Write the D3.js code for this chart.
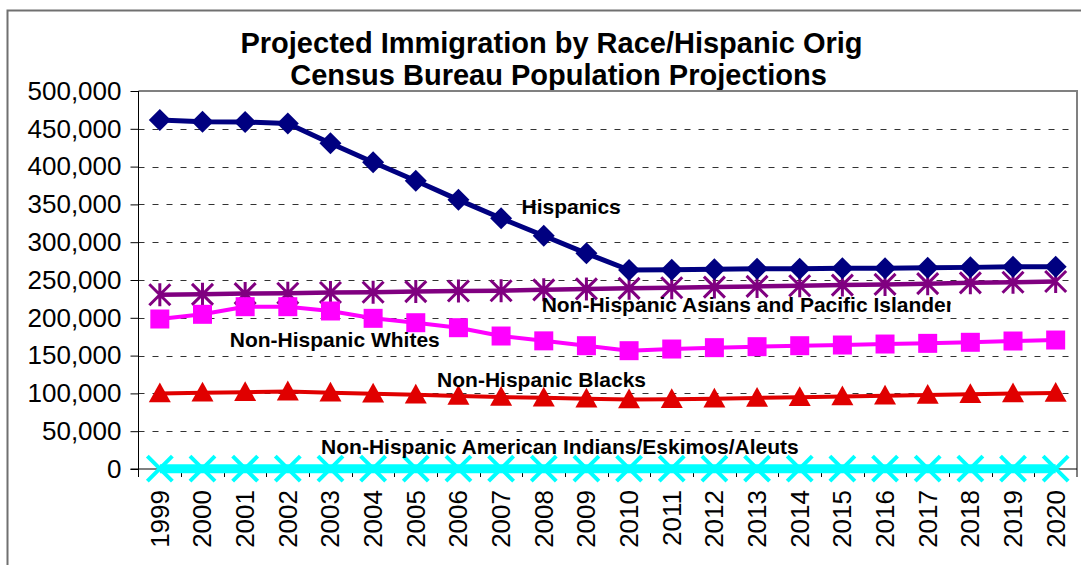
<!DOCTYPE html>
<head>
  <meta charset="utf-8">
  <script src="https://d3js.org/d3.v7.min.js"></script>
  <style>
    body { margin: 0; background: #fff; }
    text { font-family: Arial, "Liberation Sans", sans-serif; fill: #000; }
  </style>
</head>
<body>
<div id="chart"></div>
<script>
// years on the category axis
var years = ["1999","2000","2001","2002","2003","2004","2005","2006","2007","2008","2009",
             "2010","2011","2012","2013","2014","2015","2016","2017","2018","2019","2020"];

// projected immigration, persons per year
var hispanics = [461600,459400,459000,457000,430800,405700,381300,356000,331600,308500,285300,
                 263200,263500,264300,264800,264800,265400,265600,266300,266700,267400,267600];
var asians    = [230500,231000,232000,232500,233400,233800,234700,235500,235800,237000,238200,
                 239000,239800,240600,241500,242400,243300,244200,245200,246200,247000,248000];
var whites    = [198400,204600,214700,214700,209000,199300,193500,186900,175900,169500,163100,
                 156500,158700,160500,161800,163100,164000,165300,166200,167600,169300,170600];
var blacks    = [100000,100800,101600,102400,101000,99600,98200,96600,95200,94200,93000,
                 92000,92400,93000,94000,95000,96000,97000,98000,99000,99800,100500];
var indians   = [400,400,400,400,400,400,400,400,400,400,400,
                 400,400,400,400,400,400,400,400,400,400,400];

var yTicks = [0,50000,100000,150000,200000,250000,300000,350000,400000,450000,500000];

var titleLines = ["Projected Immigration by Race/Hispanic Orig", "Census Bureau Population Projections"];

// series labels placed in data units: [year position, value at baseline]
var seriesLabels = [
  { text: "Hispanics", at: [2007.48, 337300] },
  { text: "Non-Hispanic Asians and Pacific Islanders", at: [2007.95, 208100], clipTo: 2017.54 },
  { text: "Non-Hispanic Whites", at: [2000.64, 161800] },
  { text: "Non-Hispanic Blacks", at: [2005.5, 108900] },
  { text: "Non-Hispanic American Indians/Eskimos/Aleuts", at: [2002.78, 19840] }
];

var W = 1081, H = 565;
var plot = { left: 138.5, right: 1077, top: 91, bottom: 469 };

var svg = d3.select("#chart").append("svg")
    .attr("width", W)
    .attr("height", H);

// outer chart frame (runs off the right and bottom edge)
svg.append("rect")
    .attr("x", 7.5).attr("y", 10.5)
    .attr("width", 1110).attr("height", 620)
    .attr("fill", "none")
    .attr("stroke", "#707070")
    .attr("stroke-width", 2);

var x = d3.scaleBand()
    .domain(years)
    .range([plot.left, plot.right])
    .paddingInner(0).paddingOuter(0);
var bw = x.bandwidth();

var y = d3.scaleLinear()
    .domain([0, 500000])
    .range([plot.bottom, plot.top]);

// continuous year scale for placing the text labels
var xc = d3.scaleLinear()
    .domain([1999, 2020])
    .range([x("1999") + bw / 2, x("2020") + bw / 2]);

// title
svg.selectAll(".title")
  .data(titleLines)
  .enter()
  .append("text")
  .attr("class", "title")
  .attr("x", function(d, i) { return i == 0 ? 551.5 : 558.5; })
  .attr("y", function(d, i) { return 53 + i * 32; })
  .attr("text-anchor", "middle")
  .style("font-size", "29px")
  .style("font-weight", "bold")
  .text(function(d) { return d; });

// gridlines
svg.append("g")
  .selectAll("line")
  .data(yTicks.filter(function(d) { return d > 0 && d < 500000; }))
  .enter()
  .append("line")
  .attr("x1", plot.left).attr("x2", plot.right)
  .attr("y1", function(d) { return Math.round(y(d)) + 0.5; })
  .attr("y2", function(d) { return Math.round(y(d)) + 0.5; })
  .attr("stroke", "#333")
  .attr("stroke-width", 1)
  .attr("stroke-dasharray", "6,8");

// plot frame top and right
svg.append("path")
    .attr("d", "M" + plot.left + "," + plot.top + "H" + plot.right + "V" + plot.bottom)
    .attr("fill", "none")
    .attr("stroke", "#808080")
    .attr("stroke-width", 2);

// y axis
var yAxis = svg.append("g")
    .attr("transform", "translate(" + plot.left + ",0)")
    .call(d3.axisLeft(y).tickValues(yTicks).tickSize(8).tickPadding(9).tickFormat(d3.format(",")));
yAxis.select(".domain").remove();
yAxis.selectAll(".tick line").attr("stroke", "#000");
yAxis.selectAll(".tick text")
    .style("font-size", "26px")
    .style("font-family", "Arial, 'Liberation Sans', sans-serif")
    .attr("fill", "#000");
svg.append("line")
    .attr("x1", plot.left).attr("x2", plot.left)
    .attr("y1", plot.top).attr("y2", plot.bottom + 8)
    .attr("stroke", "#000");

// x axis: ticks on band edges, labels turned up
svg.append("line")
    .attr("x1", plot.left - 8).attr("x2", plot.right)
    .attr("y1", y(0)).attr("y2", y(0))
    .attr("stroke", "#000");
svg.append("g")
  .selectAll("line")
  .data(years.slice(1))
  .enter()
  .append("line")
  .attr("x1", function(d) { return Math.round(x(d)) + 0.5; })
  .attr("x2", function(d) { return Math.round(x(d)) + 0.5; })
  .attr("y1", y(0)).attr("y2", y(0) + 8)
  .attr("stroke", "#000");
svg.append("line")
    .attr("x1", plot.right).attr("x2", plot.right)
    .attr("y1", y(0)).attr("y2", y(0) + 8)
    .attr("stroke", "#000");

svg.append("g")
  .selectAll("text")
  .data(years)
  .enter()
  .append("text")
  .attr("transform", function(d) {
      return "translate(" + (x(d) + bw / 2 + 9) + "," + 490 + ") rotate(-90)";
  })
  .attr("text-anchor", "end")
  .style("font-size", "26px")
  .text(function(d) { return d; });

// marker shapes
function diamond(s) { return "M0," + (-s) + "L" + s + ",0L0," + s + "L" + (-s) + ",0Z"; }
function square(s) { return "M" + (-s) + "," + (-s) + "H" + s + "V" + s + "H" + (-s) + "Z"; }
function triangle(s) { return "M0," + (-s) + "L" + s + "," + (s * 0.8) + "L" + (-s) + "," + (s * 0.8) + "Z"; }
function asterisk(s) {
  return "M" + (-s) + "," + (-s) + "L" + s + "," + s +
         "M" + s + "," + (-s) + "L" + (-s) + "," + s +
         "M0," + (-s - 1) + "V" + (s + 1);
}
function cross(s) {
  return "M" + (-s) + "," + (-s) + "L" + s + "," + s +
         "M" + s + "," + (-s) + "L" + (-s) + "," + s;
}

var series = [
  { values: indians,   color: "#00ffff", lw: 9, shape: cross(12.5),   filled: false, mw: 4 },
  { values: blacks,    color: "#e00000", lw: 4, shape: triangle(11),  filled: true },
  { values: asians,    color: "#800080", lw: 4.5, shape: asterisk(10.5), filled: false, mw: 3 },
  { values: whites,    color: "#ff00ff", lw: 4, shape: square(9.5),   filled: true },
  { values: hispanics, color: "#000080", lw: 5, shape: diamond(11),   filled: true }
];

var line = d3.line()
    .x(function(d, i) { return x(years[i]) + bw / 2; })
    .y(function(d) { return y(d); });

series.forEach(function(s) {
  var g = svg.append("g");
  g.append("path")
      .datum(s.values)
      .attr("d", line)
      .attr("fill", "none")
      .attr("stroke", s.color)
      .attr("stroke-width", s.lw)
      .attr("stroke-linejoin", "round");
  g.selectAll(".marker")
    .data(s.values)
    .enter()
    .append("path")
    .attr("class", "marker")
    .attr("transform", function(d, i) {
        return "translate(" + (x(years[i]) + bw / 2) + "," + y(d) + ")";
    })
    .attr("d", s.shape)
    .attr("fill", s.filled ? s.color : "none")
    .attr("stroke", s.color)
    .attr("stroke-width", s.filled ? 0 : s.mw);
});

// clip for the cut-off Asian label
svg.append("clipPath")
    .attr("id", "labelClip")
  .append("rect")
    .attr("x", 0).attr("y", 0)
    .attr("width", xc(seriesLabels[1].clipTo)).attr("height", H);

svg.append("g")
  .selectAll("text")
  .data(seriesLabels)
  .enter()
  .append("text")
  .attr("x", function(d) { return xc(d.at[0]); })
  .attr("y", function(d) { return y(d.at[1]); })
  .attr("clip-path", function(d) { return d.clipTo ? "url(#labelClip)" : null; })
  .style("font-size", "21px")
  .style("font-weight", "bold")
  .text(function(d) { return d.text; });
</script>
</body>
</html>
